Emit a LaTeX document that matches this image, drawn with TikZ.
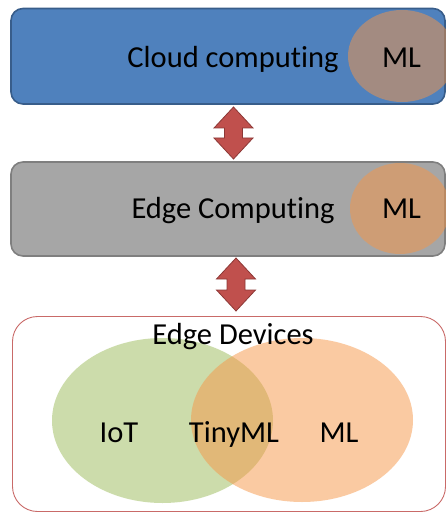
\documentclass[tikz,border=0pt]{standalone}
\usepackage{fontspec}
\setmainfont[Ligatures={NoCommon}]{Carlito}
\usetikzlibrary{shapes.geometric}
\definecolor{cloudblue}{HTML}{4F81BD}
\definecolor{cloudborder}{HTML}{385D8A}
\definecolor{edgegray}{HTML}{A6A6A6}
\definecolor{edgeborder}{HTML}{7F7F7F}
\definecolor{mlorange}{HTML}{F79646}
\definecolor{iotgreen}{HTML}{9BBB59}
\definecolor{arrowred}{HTML}{C0504D}
\definecolor{arrowborder}{HTML}{8C3836}
\tikzset{
  layerbox/.style={rectangle, rounded corners=12pt, line width=1.6pt, inner sep=0pt},
  blob/.style={ellipse, inner sep=0pt, fill opacity=0.5},
  lbl/.style={anchor=base, inner sep=0pt, font=\fontsize{30.5}{36}\selectfont, text=black},
  dblarrow/.style={fill=arrowred, draw=arrowborder, line width=0.8pt, line join=miter}
}
\newcommand{\mydblarrow}[3]{% center x, top y, bottom y
  \draw[dblarrow] (#1,#2) -- (#1+19.5,#2+21) -- (#1+9,#2+21) -- (#1+9,#3-21)
    -- (#1+19.5,#3-21) -- (#1,#3) -- (#1-19.5,#3-21) -- (#1-9,#3-21)
    -- (#1-9,#2+21) -- (#1-19.5,#2+21) -- cycle;}
\begin{document}
\begin{tikzpicture}[x=1pt,y=-1pt]
\useasboundingbox (0,0) rectangle (446,513);
\clip (0,0) rectangle (446,513);
% layer boxes
\node[layerbox, fill=cloudblue, draw=cloudborder, minimum width=434pt, minimum height=95.5pt] (cloud) at (228,56.25) {};
\node[layerbox, fill=edgegray, draw=edgeborder, minimum width=434pt, minimum height=94pt] (edge) at (228,209) {};
\node[rectangle, rounded corners=25pt, draw=arrowred!85, line width=0.9pt, fill=white, inner sep=0pt, minimum width=433pt, minimum height=195pt] (devices) at (229,414) {};
% ML ellipses in layers
\node[blob, fill=mlorange, minimum width=108pt, minimum height=92pt] (cloudml) at (402,56) {};
\node[blob, fill=mlorange, minimum width=100pt, minimum height=91pt] (edgeml) at (400,208.5) {};
% Venn ellipses
\node[blob, fill=iotgreen, minimum width=221pt, minimum height=165pt] (iotset) at (162.5,420.5) {};
\node[blob, fill=mlorange, minimum width=222pt, minimum height=164pt] (mlset) at (302,420) {};
% arrows
\mydblarrow{233.5}{107}{159}
\mydblarrow{236}{258}{311}
% labels
\node[lbl] (cloudtxt) at (233,68) {Cloud computing};
\node[lbl] (cloudmltxt) at (401.5,68) {ML};
\node[lbl] (edgetxt) at (233,218) {Edge Computing};
\node[lbl] (edgemltxt) at (401.5,218) {ML};
\node[lbl] (devtxt) at (233,344) {Edge Devices};
\node[lbl] (iottxt) at (119,442) {IoT};
\node[lbl] (tinytxt) at (234,442) {TinyML};
\node[lbl] (mltxt) at (339,442) {ML};
\end{tikzpicture}
\end{document}
